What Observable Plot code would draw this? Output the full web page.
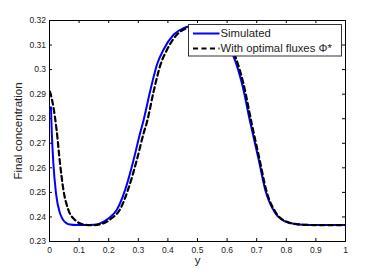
<!DOCTYPE html>
<html>
<head>
<meta charset="utf-8">
<script src="https://cdn.jsdelivr.net/npm/d3@7"></script>
<script src="https://cdn.jsdelivr.net/npm/@observablehq/plot@0.6"></script>
<style>
  html, body { margin: 0; padding: 0; background: #fff; }
  #wrap { position: relative; width: 382px; height: 273px; }
  #legend { position: absolute; left: 0; top: 0; }
</style>
</head>
<body>
<div id="wrap"></div>
<script>
// ---- data ----
const simX = [0.005, 0.0074, 0.013, 0.022, 0.0355, 0.045, 0.058, 0.07, 0.09, 0.12, 0.15, 0.171, 0.2, 0.227, 0.2555, 0.284, 0.306, 0.317, 0.340, 0.363, 0.385, 0.419, 0.453, 0.47, 0.49, 0.52, 0.55, 0.58, 0.60, 0.622, 0.650, 0.679, 0.707, 0.729, 0.763, 0.797, 0.831, 0.86, 0.9, 1.0];
const simY = [0.2847, 0.2754, 0.2619, 0.2496, 0.2415, 0.2390, 0.2374, 0.2369, 0.2367, 0.2367, 0.2368, 0.2374, 0.2395, 0.2428, 0.2510, 0.2632, 0.2741, 0.2790, 0.2912, 0.3020, 0.3081, 0.3142, 0.3169, 0.3176, 0.3178, 0.3175, 0.3165, 0.3140, 0.3105, 0.3053, 0.2944, 0.2781, 0.2632, 0.2510, 0.2415, 0.2381, 0.2371, 0.2368, 0.2367, 0.2367];

const optX = [0.0017, 0.013, 0.024, 0.0355, 0.047, 0.064, 0.086, 0.109, 0.13, 0.15, 0.17, 0.19, 0.21, 0.237, 0.265, 0.295, 0.318, 0.33, 0.352, 0.375, 0.397, 0.43, 0.464, 0.48, 0.50, 0.53, 0.56, 0.59, 0.61, 0.628, 0.655, 0.683, 0.710, 0.732, 0.766, 0.800, 0.834, 0.86, 0.9, 1.0];
const optY = [0.2910, 0.2849, 0.2754, 0.2619, 0.2510, 0.2428, 0.2388, 0.2371, 0.2367, 0.2367, 0.2370, 0.2378, 0.2395, 0.2428, 0.2510, 0.2632, 0.2741, 0.2790, 0.2912, 0.3020, 0.3081, 0.3142, 0.3169, 0.3176, 0.3178, 0.3175, 0.3165, 0.3140, 0.3105, 0.3053, 0.2944, 0.2781, 0.2632, 0.2510, 0.2415, 0.2381, 0.2371, 0.2368, 0.2367, 0.2367];

const xTicks = [0, 0.1, 0.2, 0.3, 0.4, 0.5, 0.6, 0.7, 0.8, 0.9, 1];
const yTicks = [0.23, 0.24, 0.25, 0.26, 0.27, 0.28, 0.29, 0.30, 0.31, 0.32];
const seriesNames = ["Simulated", "With optimal fluxes \u03A6*"];
const xLabel = "y";
const yLabel = "Final concentration";

// ---- build ----
const sim = simX.map((x, i) => ({x, y: simY[i]}));
const opt = optX.map((x, i) => ({x, y: optY[i]}));
const fmt = d => String(+d.toFixed(2));

const W = 382, H = 273, mL = 49, mR = 37, mT = 20, mB = 32;
const pw = W - mL - mR, ph = H - mT - mB;
const tickLen = 3;
const dash = "5,3.5";
const font = "'Liberation Sans', Arial, Helvetica, sans-serif";

const chart = Plot.plot({
  width: W, height: H,
  marginLeft: mL, marginRight: mR, marginTop: mT, marginBottom: mB,
  style: {fontFamily: font, background: "#fff", color: "#222"},
  x: {domain: [0, 1]},
  y: {domain: [0.23, 0.32]},
  marks: [
    Plot.line(sim, {x: "x", y: "y", stroke: "#0000ff", strokeWidth: 2, curve: "monotone-x", clip: true}),
    Plot.line(opt, {x: "x", y: "y", stroke: "#000", strokeWidth: 2.2, strokeDasharray: dash, curve: "monotone-x", clip: true}),
    // inward ticks on all four sides
    Plot.tickX(xTicks, {x: d => d, insetTop: ph - tickLen, stroke: "#000"}),
    Plot.tickX(xTicks, {x: d => d, insetBottom: ph - tickLen, stroke: "#000"}),
    Plot.tickY(yTicks, {y: d => d, insetRight: pw - tickLen, stroke: "#000"}),
    Plot.tickY(yTicks, {y: d => d, insetLeft: pw - tickLen, stroke: "#000"}),
    Plot.frame({stroke: "#000"}),
    Plot.axisX({ticks: xTicks, tickSize: 0, tickPadding: 5, tickFormat: fmt, fontSize: 8.5,
      label: xLabel, labelAnchor: "center", labelArrow: "none", labelOffset: 22}),
    Plot.axisY({ticks: yTicks, tickSize: 0, tickPadding: 3.5, tickFormat: fmt, fontSize: 8.5,
      label: yLabel, labelAnchor: "center", labelArrow: "none", labelOffset: 36})
  ]
});
chart.querySelectorAll("g[aria-label$='axis label'] text, g[aria-label$='axis label']").forEach(e => e.setAttribute("font-size", "11.5"));

const wrap = document.getElementById("wrap");
wrap.appendChild(chart);

// ---- legend overlay ----
const ns = "http://www.w3.org/2000/svg";
const lg = document.createElementNS(ns, "svg");
lg.setAttribute("id", "legend");
lg.setAttribute("width", W);
lg.setAttribute("height", H);
const box = document.createElementNS(ns, "rect");
box.setAttribute("x", 188.5); box.setAttribute("y", 24.5);
box.setAttribute("width", 153); box.setAttribute("height", 31.5);
box.setAttribute("fill", "#fff"); box.setAttribute("stroke", "#333"); box.setAttribute("stroke-width", 1);
lg.appendChild(box);
const styles = [
  {stroke: "#0000ff", width: 2, dash: null},
  {stroke: "#000", width: 2.2, dash: dash}
];
seriesNames.forEach((name, i) => {
  const yy = 33.5 + i * 15;
  const ln = document.createElementNS(ns, "line");
  ln.setAttribute("x1", 193); ln.setAttribute("x2", 219.5);
  ln.setAttribute("y1", yy); ln.setAttribute("y2", yy);
  ln.setAttribute("stroke", styles[i].stroke);
  ln.setAttribute("stroke-width", styles[i].width);
  if (styles[i].dash) ln.setAttribute("stroke-dasharray", styles[i].dash);
  lg.appendChild(ln);
  const t = document.createElementNS(ns, "text");
  t.setAttribute("x", 220.5); t.setAttribute("y", yy);
  t.setAttribute("dy", "0.35em");
  t.setAttribute("font-family", font);
  t.setAttribute("font-size", 11.3);
  t.setAttribute("fill", "#222");
  t.textContent = name;
  lg.appendChild(t);
});
wrap.appendChild(lg);
</script>
</body>
</html>
